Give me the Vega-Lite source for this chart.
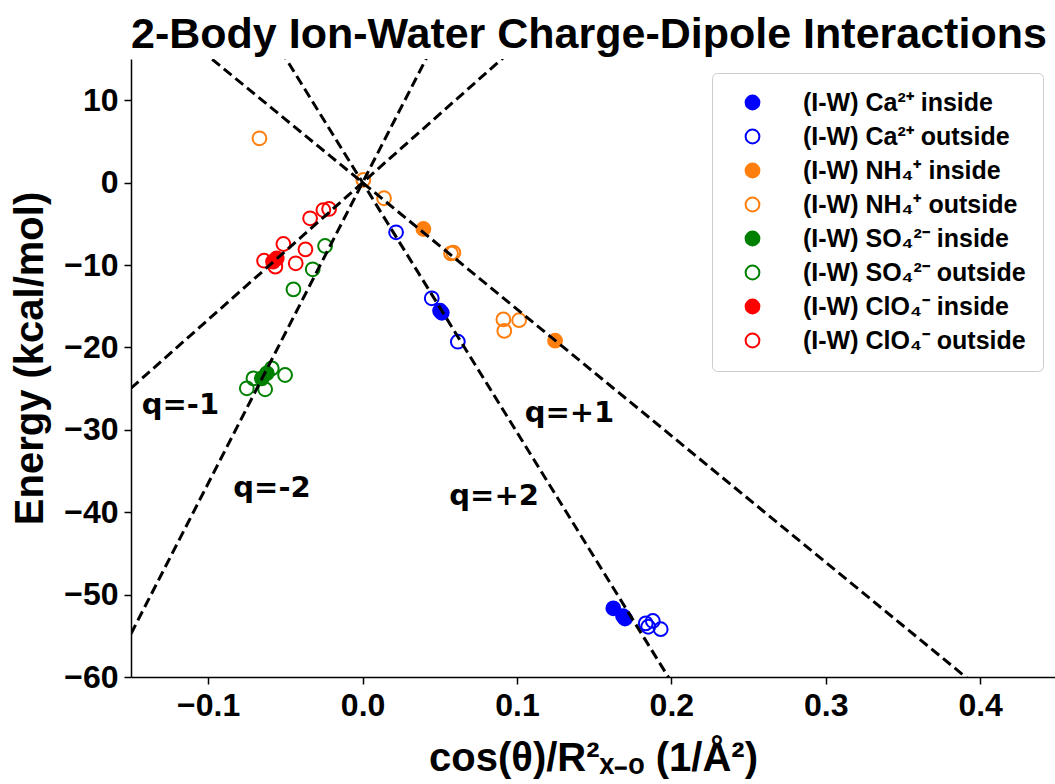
{
  "$schema": "https://vega.github.io/schema/vega-lite/v6.json",
  "width": 924,
  "height": 618,
  "autosize": "none",
  "padding": {"left": 131, "top": 59, "right": 0, "bottom": 107},
  "background": "white",
  "config": {
    "view": {"stroke": null},
    "title": {"font": "Liberation Sans", "fontSize": 43, "fontWeight": "bold", "color": "black", "baseline": "alphabetic", "offset": 2, "anchor": "start", "frame": "group"}
  },
  "title": "2-Body Ion-Water Charge-Dipole Interactions",
  "datasets": {
    "pts": [
      {"x": 0.0394, "y": -5.63, "series": "(I-W) NH₄⁺ inside"},
      {"x": 0.1247, "y": -19.19, "series": "(I-W) NH₄⁺ inside"},
      {"x": -0.0668, "y": 5.38, "series": "(I-W) NH₄⁺ outside"},
      {"x": 0.0005, "y": 0.32, "series": "(I-W) NH₄⁺ outside"},
      {"x": 0.0139, "y": -1.9, "series": "(I-W) NH₄⁺ outside"},
      {"x": 0.0588, "y": -8.5, "series": "(I-W) NH₄⁺ outside"},
      {"x": 0.0573, "y": -8.58, "series": "(I-W) NH₄⁺ outside"},
      {"x": 0.0912, "y": -16.6, "series": "(I-W) NH₄⁺ outside"},
      {"x": 0.1014, "y": -16.7, "series": "(I-W) NH₄⁺ outside"},
      {"x": 0.0918, "y": -18.0, "series": "(I-W) NH₄⁺ outside"},
      {"x": 0.0513, "y": -15.8, "series": "(I-W) Ca²⁺ inside"},
      {"x": 0.0502, "y": -15.55, "series": "(I-W) Ca²⁺ inside"},
      {"x": 0.1624, "y": -51.66, "series": "(I-W) Ca²⁺ inside"},
      {"x": 0.17, "y": -52.9, "series": "(I-W) Ca²⁺ inside"},
      {"x": 0.1687, "y": -52.6, "series": "(I-W) Ca²⁺ inside"},
      {"x": 0.0217, "y": -6.03, "series": "(I-W) Ca²⁺ outside"},
      {"x": 0.0448, "y": -14.04, "series": "(I-W) Ca²⁺ outside"},
      {"x": 0.0617, "y": -19.31, "series": "(I-W) Ca²⁺ outside"},
      {"x": 0.1834, "y": -53.5, "series": "(I-W) Ca²⁺ outside"},
      {"x": 0.188, "y": -53.2, "series": "(I-W) Ca²⁺ outside"},
      {"x": 0.1931, "y": -54.2, "series": "(I-W) Ca²⁺ outside"},
      {"x": 0.185, "y": -53.9, "series": "(I-W) Ca²⁺ outside"},
      {"x": -0.062, "y": -23.14, "series": "(I-W) SO₄²⁻ inside"},
      {"x": -0.0653, "y": -23.75, "series": "(I-W) SO₄²⁻ inside"},
      {"x": -0.0243, "y": -7.69, "series": "(I-W) SO₄²⁻ outside"},
      {"x": -0.0323, "y": -10.52, "series": "(I-W) SO₄²⁻ outside"},
      {"x": -0.0448, "y": -12.95, "series": "(I-W) SO₄²⁻ outside"},
      {"x": -0.0502, "y": -23.35, "series": "(I-W) SO₄²⁻ outside"},
      {"x": -0.0707, "y": -23.75, "series": "(I-W) SO₄²⁻ outside"},
      {"x": -0.075, "y": -24.96, "series": "(I-W) SO₄²⁻ outside"},
      {"x": -0.0631, "y": -25.08, "series": "(I-W) SO₄²⁻ outside"},
      {"x": -0.0588, "y": -22.54, "series": "(I-W) SO₄²⁻ outside"},
      {"x": -0.0556, "y": -9.19, "series": "(I-W) ClO₄⁻ inside"},
      {"x": -0.058, "y": -9.6, "series": "(I-W) ClO₄⁻ inside"},
      {"x": -0.034, "y": -4.33, "series": "(I-W) ClO₄⁻ outside"},
      {"x": -0.0254, "y": -3.33, "series": "(I-W) ClO₄⁻ outside"},
      {"x": -0.0217, "y": -3.2, "series": "(I-W) ClO₄⁻ outside"},
      {"x": -0.0513, "y": -7.45, "series": "(I-W) ClO₄⁻ outside"},
      {"x": -0.037, "y": -8.1, "series": "(I-W) ClO₄⁻ outside"},
      {"x": -0.0638, "y": -9.48, "series": "(I-W) ClO₄⁻ outside"},
      {"x": -0.0565, "y": -10.2, "series": "(I-W) ClO₄⁻ outside"},
      {"x": -0.0433, "y": -9.79, "series": "(I-W) ClO₄⁻ outside"}
    ],
    "lines": [
      {"q": "+1", "x": -0.15, "y": 23.04},
      {"q": "+1", "x": 0.45, "y": -69.12},
      {"q": "+2", "x": -0.15, "y": 45.45},
      {"q": "+2", "x": 0.45, "y": -136.35},
      {"q": "-1", "x": -0.15, "y": -24.95},
      {"q": "-1", "x": 0.45, "y": 74.84},
      {"q": "-2", "x": -0.15, "y": -54.75},
      {"q": "-2", "x": 0.45, "y": 164.25}
    ],
    "labels": [
      {"label": "q=-1", "x": -0.143, "y": -28.08},
      {"label": "q=-2", "x": -0.0837, "y": -38.1},
      {"label": "q=+2", "x": 0.0562, "y": -39.1},
      {"label": "q=+1", "x": 0.105, "y": -29.1}
    ]
  },
  "layer": [
    {
      "data": {"name": "pts"},
      "mark": {"type": "point", "shape": "circle", "size": 190, "strokeWidth": 2, "opacity": 1},
      "encoding": {
        "x": {
          "field": "x", "type": "quantitative",
          "scale": {"domain": [-0.15, 0.4485], "nice": false, "zero": false},
          "axis": {
            "values": [-0.1, 0, 0.1, 0.2, 0.3, 0.4], "format": ".1f", "grid": false,
            "domainColor": "black", "domainWidth": 1.5, "tickColor": "black", "tickWidth": 1.5, "tickSize": 7,
            "labelFont": "Liberation Sans", "labelFontWeight": "bold", "labelFontSize": 32, "labelColor": "black", "labelPadding": 6,
            "title": "cos(θ)/R²ₓ₋ₒ  (1/Å²)", "titleFont": "Liberation Sans", "titleFontWeight": "bold", "titleFontSize": 40, "titleColor": "black",
            "titleBaseline": "alphabetic", "titleY": 93
          }
        },
        "y": {
          "field": "y", "type": "quantitative",
          "scale": {"domain": [-60, 15], "nice": false, "zero": false},
          "axis": {
            "values": [-60, -50, -40, -30, -20, -10, 0, 10], "grid": false,
            "domainColor": "black", "domainWidth": 1.5, "tickColor": "black", "tickWidth": 1.5, "tickSize": 7,
            "labelFont": "Liberation Sans", "labelFontWeight": "bold", "labelFontSize": 32, "labelColor": "black", "labelPadding": 6,
            "title": "Energy (kcal/mol)", "titleFont": "Liberation Sans", "titleFontWeight": "bold", "titleFontSize": 40, "titleColor": "black",
            "titleAngle": -90, "titleBaseline": "middle", "titleAlign": "center", "titleX": -101, "titleY": 299
          }
        },
        "fill": {
          "field": "series", "type": "nominal",
          "scale": {
            "domain": ["(I-W) Ca²⁺ inside", "(I-W) Ca²⁺ outside", "(I-W) NH₄⁺ inside", "(I-W) NH₄⁺ outside", "(I-W) SO₄²⁻ inside", "(I-W) SO₄²⁻ outside", "(I-W) ClO₄⁻ inside", "(I-W) ClO₄⁻ outside"],
            "range": ["#0000ff", "transparent", "#ff7f0e", "transparent", "#008000", "transparent", "#ff0000", "transparent"]
          },
          "legend": {
            "title": null, "orient": "none", "legendX": 581, "legendY": 14,
            "labelFont": "Liberation Sans", "labelFontWeight": "bold", "labelFontSize": 25, "labelColor": "black", "labelLimit": 0,
            "symbolType": "circle", "symbolSize": 190, "symbolStrokeWidth": 2, "rowPadding": 8, "padding": 17, "symbolOffset": 11, "labelOffset": 38,
            "fillColor": "rgba(255,255,255,0.8)", "strokeColor": "#cccccc", "cornerRadius": 5
          }
        },
        "stroke": {
          "field": "series", "type": "nominal",
          "scale": {
            "domain": ["(I-W) Ca²⁺ inside", "(I-W) Ca²⁺ outside", "(I-W) NH₄⁺ inside", "(I-W) NH₄⁺ outside", "(I-W) SO₄²⁻ inside", "(I-W) SO₄²⁻ outside", "(I-W) ClO₄⁻ inside", "(I-W) ClO₄⁻ outside"],
            "range": ["#0000ff", "#0000ff", "#ff7f0e", "#ff7f0e", "#008000", "#008000", "#ff0000", "#ff0000"]
          },
          "legend": {
            "title": null, "orient": "none", "legendX": 581, "legendY": 14,
            "labelFont": "Liberation Sans", "labelFontWeight": "bold", "labelFontSize": 25, "labelColor": "black", "labelLimit": 0,
            "symbolType": "circle", "symbolSize": 190, "symbolStrokeWidth": 2, "rowPadding": 8, "padding": 17, "symbolOffset": 11, "labelOffset": 38,
            "fillColor": "rgba(255,255,255,0.8)", "strokeColor": "#cccccc", "cornerRadius": 5
          }
        }
      }
    },
    {
      "mark": {"type": "rule", "color": "black", "strokeWidth": 2.5},
      "encoding": {"x": {"datum": 0, "type": "quantitative", "scale": {"domain": [-0.15, 0.4485], "nice": false, "zero": false}}}
    },
    {
      "mark": {"type": "rule", "color": "black", "strokeWidth": 2.5},
      "encoding": {"y": {"datum": 0, "type": "quantitative", "scale": {"domain": [-60, 15], "nice": false, "zero": false}}}
    },
    {
      "mark": {"type": "rule", "color": "black", "strokeWidth": 1.5},
      "encoding": {"y": {"datum": 15, "type": "quantitative", "scale": {"domain": [-60, 15], "nice": false, "zero": false}}}
    },
    {
      "data": {"name": "lines"},
      "mark": {"type": "line", "color": "black", "strokeWidth": 3, "strokeDash": [10, 5], "clip": true},
      "encoding": {
        "x": {"field": "x", "type": "quantitative", "scale": {"domain": [-0.15, 0.4485], "nice": false, "zero": false}},
        "y": {"field": "y", "type": "quantitative", "scale": {"domain": [-60, 15], "nice": false, "zero": false}},
        "detail": {"field": "q", "type": "nominal"}
      }
    },
    {
      "data": {"name": "labels"},
      "mark": {"type": "text", "font": "DejaVu Sans", "fontWeight": "bold", "fontSize": 29, "align": "left", "baseline": "alphabetic", "color": "black"},
      "encoding": {
        "x": {"field": "x", "type": "quantitative", "scale": {"domain": [-0.15, 0.4485], "nice": false, "zero": false}},
        "y": {"field": "y", "type": "quantitative", "scale": {"domain": [-60, 15], "nice": false, "zero": false}},
        "text": {"field": "label", "type": "nominal"}
      }
    }
  ]
}
